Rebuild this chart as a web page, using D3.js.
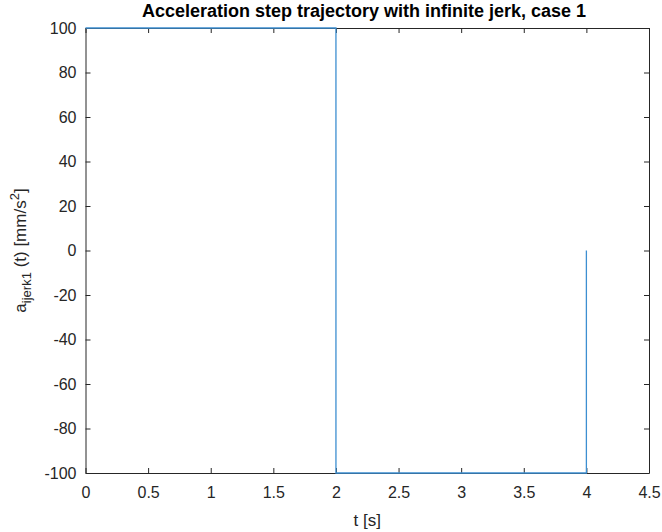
<!DOCTYPE html>
<html>
<head>
<meta charset="utf-8">
<script src="https://cdn.jsdelivr.net/npm/d3@7"></script>
<style>
  body { margin: 0; background: #fff; }
  svg { display: block; font-family: "Liberation Sans", Arial, sans-serif; }
</style>
</head>
<body>
<svg width="662" height="532"></svg>
<script>
const tValues = [0, 2, 2, 4, 4];
const aValues = [100, 100, -100, -100, 0];
const xTicks = [0, 0.5, 1, 1.5, 2, 2.5, 3, 3.5, 4, 4.5];
const yTicks = [-100, -80, -60, -40, -20, 0, 20, 40, 60, 80, 100];

const svg = d3.select('svg');
const margens = { left: 85.5, right: 13, top: 28, bottom: 59 };
const svgWidth = 662, svgHeight = 532;
const w = svgWidth - margens.left - margens.right;
const h = svgHeight - margens.top - margens.bottom;

const mapX = d3.scaleLinear().domain([0, 4.5]).range([0, w]);
const mapY = d3.scaleLinear().domain([-100, 100]).range([h, 0]);

const axisColor = '#262626';
const fmt = d => String(d); // hífen simples como no MATLAB
const g = svg.append('g').attr('transform', `translate(${margens.left}, ${margens.top})`);

// ---- Eixos
function styleAxis(sel) {
    sel.attr('font-family', '"Liberation Sans", Arial, sans-serif');
    sel.select('.domain').attr('stroke', axisColor);
    sel.selectAll('.tick line').attr('stroke', axisColor);
    sel.selectAll('.tick text').attr('fill', axisColor).attr('font-size', '16px');
}

const xAxis = d3.axisBottom(mapX).tickValues(xTicks).tickSizeInner(-5).tickSizeOuter(0).tickPadding(14).tickFormat(fmt);
g.append('g').attr('transform', `translate(0, ${h})`).call(xAxis).call(styleAxis);

const xTop = d3.axisTop(mapX).tickValues(xTicks).tickSizeInner(-5).tickSizeOuter(0).tickFormat('');
g.append('g').call(xTop).call(styleAxis);

const yAxis = d3.axisLeft(mapY).tickValues(yTicks).tickSizeInner(-5).tickSizeOuter(0).tickPadding(9).tickFormat(fmt);
g.append('g').call(yAxis).call(styleAxis);

const yRight = d3.axisRight(mapY).tickValues(yTicks).tickSizeInner(-5).tickSizeOuter(0).tickFormat('');
g.append('g').attr('transform', `translate(${w}, 0)`).call(yRight).call(styleAxis);

// ---- Linha
const data = tValues.map((t, i) => ({ t: t, a: aValues[i] }));
g.append('path')
    .datum(data)
    .attr('fill', 'none')
    .attr('stroke', '#3d8fd1')
    .attr('stroke-width', 1.3)
    .attr('d', d3.line().x(d => mapX(d.t)).y(d => mapY(d.a)));

// ---- Títulos
svg.append('text')
    .attr('x', 364)
    .attr('y', 17)
    .attr('text-anchor', 'middle')
    .attr('font-size', '18px')
    .attr('font-weight', '700')
    .attr('fill', '#000')
    .text('Acceleration step trajectory with infinite jerk, case 1');

svg.append('text')
    .attr('x', margens.left + w / 2)
    .attr('y', 526)
    .attr('text-anchor', 'middle')
    .attr('font-size', '17px')
    .attr('fill', axisColor)
    .text('t [s]');

const yLabel = svg.append('text')
    .attr('transform', `translate(26, ${margens.top + h / 2}) rotate(-90)`)
    .attr('text-anchor', 'middle')
    .attr('font-size', '17px')
    .attr('fill', axisColor);
yLabel.append('tspan').text('a');
yLabel.append('tspan').attr('dy', 5).attr('font-size', '13px').text('ijerk1');
yLabel.append('tspan').attr('dy', -5).text(' (t) [mm/s');
yLabel.append('tspan').attr('dy', -7).attr('font-size', '13px').text('2');
yLabel.append('tspan').attr('dy', 7).text(']');
</script>
</body>
</html>
